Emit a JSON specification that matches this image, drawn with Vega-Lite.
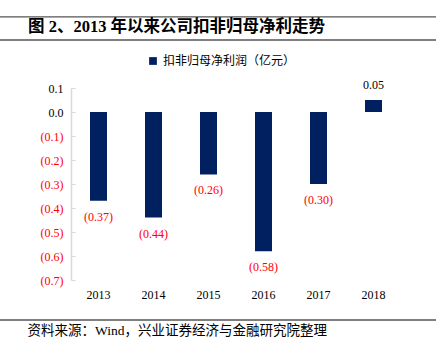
{
  "$schema": "https://vega.github.io/schema/vega-lite/v6.json",
  "autosize": "none",
  "width": 330,
  "height": 192,
  "padding": {"left": 71, "top": 88, "right": 35, "bottom": 68},
  "background": "white",
  "config": {"view": {"stroke": null}, "axis": {"labelOverlap": false}, "axisY": {"labelOverlap": false}},
  "title": {
    "text": "图 2、2013 年以来公司扣非归母净利走势",
    "anchor": "start",
    "frame": "group",
    "dx": -43,
    "offset": -19,
    "font": "Liberation Serif, Noto Sans CJK SC",
    "fontSize": 16.5,
    "fontWeight": "bold",
    "color": "black"
  },
  "data": {
    "values": [
      {"year": "2013", "value": -0.37, "series": "扣非归母净利润（亿元）"},
      {"year": "2014", "value": -0.44, "series": "扣非归母净利润（亿元）"},
      {"year": "2015", "value": -0.26, "series": "扣非归母净利润（亿元）"},
      {"year": "2016", "value": -0.58, "series": "扣非归母净利润（亿元）"},
      {"year": "2017", "value": -0.30, "series": "扣非归母净利润（亿元）"},
      {"year": "2018", "value": 0.05, "series": "扣非归母净利润（亿元）"}
    ]
  },
  "encoding": {
    "x": {
      "field": "year", "type": "ordinal",
      "scale": {"paddingInner": 0, "paddingOuter": 0},
      "axis": {
        "labelAngle": 0, "domain": false, "ticks": false, "labelPadding": 9,
        "labelFont": "Liberation Serif", "labelFontSize": 12, "labelColor": "black",
        "title": "资料来源：Wind，兴业证券经济与金融研究院整理",
        "titleAnchor": "start", "titleAlign": "left", "titleX": -44, "titleY": 50,
        "titleBaseline": "middle",
        "titleFont": "Liberation Serif, Noto Sans CJK SC", "titleFontSize": 13.5,
        "titleFontWeight": "normal", "titleColor": "black"
      }
    },
    "y": {
      "field": "value", "type": "quantitative",
      "scale": {"domain": [-0.7, 0.1], "nice": false, "zero": false},
      "axis": {
        "values": [0.1, 0, -0.1, -0.2, -0.3, -0.4, -0.5, -0.6, -0.7],
        "title": null, "grid": false, "labelOverlap": false,
        "domainColor": "#d9d9d9", "domainWidth": 1.5,
        "tickColor": "#d9d9d9", "tickSize": -4, "tickWidth": 1,
        "labelPadding": 12,
        "labelFont": "Liberation Serif", "labelFontSize": 12,
        "labelExpr": "datum.value < -0.001 ? '(' + format(-datum.value, '.1f') + ')' : format(datum.value, '.1f')",
        "labelColor": {"condition": {"test": "datum.value < -0.001", "value": "#FF0000"}, "value": "black"}
      }
    }
  },
  "layer": [
    {
      "mark": {"type": "bar", "size": 17, "color": "#002060"},
      "encoding": {
        "color": {
          "field": "series", "type": "nominal",
          "scale": {"range": ["#002060"]},
          "legend": {
            "title": null, "orient": "none", "legendX": 76, "legendY": -33,
            "symbolType": "square", "symbolSize": 60,
            "labelFont": "Noto Sans CJK SC", "labelFontSize": 12, "labelColor": "black"
          }
        }
      }
    },
    {
      "transform": [
        {"filter": "datum.value < 0"},
        {"calculate": "'(' + format(-datum.value, '.2f') + ')'", "as": "lbl"}
      ],
      "mark": {"type": "text", "font": "Liberation Serif", "fontSize": 12, "baseline": "middle", "dy": 16, "color": "#FF0000"},
      "encoding": {
        "text": {"field": "lbl", "type": "nominal"}
      }
    },
    {
      "transform": [
        {"filter": "datum.value >= 0"},
        {"calculate": "format(datum.value, '.2f')", "as": "lbl"}
      ],
      "mark": {"type": "text", "font": "Liberation Serif", "fontSize": 12, "baseline": "middle", "dy": -15, "color": "black"},
      "encoding": {
        "text": {"field": "lbl", "type": "nominal"}
      }
    },
    {
      "mark": {"type": "rule", "color": "#d9d9d9", "strokeWidth": 1.5},
      "encoding": {"y": {"datum": 0}}
    },
    {
      "data": {"values": [{"pos": 0.396}, {"pos": 0.3}, {"pos": -0.8667}]},
      "mark": {"type": "rule", "color": "#555555", "strokeWidth": 1.3},
      "encoding": {
        "y": {"field": "pos", "type": "quantitative"},
        "x": {"value": -71},
        "x2": {"value": 365}
      }
    }
  ]
}
